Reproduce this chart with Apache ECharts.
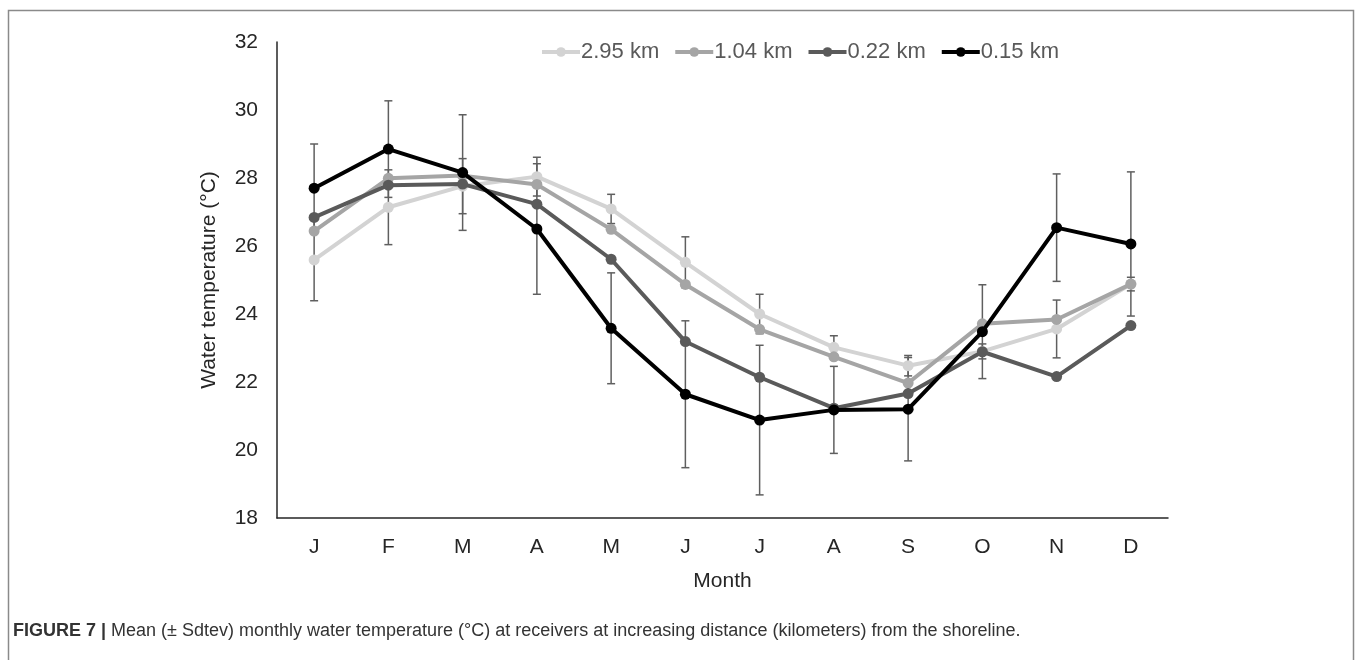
<!DOCTYPE html>
<html>
<head>
<meta charset="utf-8">
<script src="https://cdn.jsdelivr.net/npm/echarts@6/dist/echarts.min.js"></script>
<style>
html,body{margin:0;padding:0;background:#fff;}
#chart{width:1357px;height:660px;}
</style>
</head>
<body>
<div id="chart"></div>
<script>
var months = ['J','F','M','A','M','J','J','A','S','O','N','D'];
var seriesNames = ['2.95 km','1.04 km','0.22 km','0.15 km'];
var km295 = [25.59, 27.14, 27.76, 28.04, 27.09, 25.52, 24.00, 23.02, 22.48, 22.90, 23.56, 24.88];
var km104 = [26.44, 27.99, 28.07, 27.81, 26.49, 24.87, 23.55, 22.74, 21.97, 23.71, 23.84, 24.88];
var km022 = [26.84, 27.79, 27.82, 27.23, 25.61, 23.19, 22.14, 21.23, 21.66, 22.89, 22.16, 23.66];
var km015 = [27.70, 28.85, 28.16, 26.50, 23.58, 21.64, 20.88, 21.18, 21.20, 23.48, 26.54, 26.06];
var sd295 = [1.20, 1.10, 0.81, 0.57, 0.43, 0.75, 0.58, 0.34, 0.30, 0.22, 0.85, 0.20];
var sd015 = [1.30, 1.42, 1.70, 1.92, 1.63, 2.16, 2.20, 1.28, 1.52, 1.38, 1.58, 2.12];
var yTicks = [18, 20, 22, 24, 26, 28, 30, 32];

var colors = ['#d3d3d3', '#a5a5a5', '#5a5a5a', '#000000'];
var FONT = '"Liberation Sans", Arial, sans-serif';

function errData(vals, sds) {
  return vals.map(function (v, i) { return [i, v - sds[i], v + sds[i]]; });
}
var errAll = errData(km295, sd295).concat(errData(km015, sd015));

function renderErr(params, api) {
  var lo = api.coord([api.value(0), api.value(1)]);
  var hi = api.coord([api.value(0), api.value(2)]);
  var hw = 4;
  var st = { stroke: '#5f5f5f', lineWidth: 1.5 };
  return {
    type: 'group',
    children: [
      { type: 'line', shape: { x1: lo[0], y1: lo[1], x2: hi[0], y2: hi[1] }, style: st },
      { type: 'line', shape: { x1: lo[0] - hw, y1: lo[1], x2: lo[0] + hw, y2: lo[1] }, style: st },
      { type: 'line', shape: { x1: hi[0] - hw, y1: hi[1], x2: hi[0] + hw, y2: hi[1] }, style: st }
    ]
  };
}

function lineSeries(name, data, color, z) {
  return {
    name: name, type: 'line', data: data, z: z,
    symbol: 'circle', symbolSize: 11,
    lineStyle: { color: color, width: 4 },
    itemStyle: { color: color },
    emphasis: { disabled: true },
    animation: false
  };
}

var chart = echarts.init(document.getElementById('chart'), null, { renderer: 'canvas' });
chart.setOption({
  animation: false,
  backgroundColor: '#ffffff',
  textStyle: { fontFamily: FONT },
  grid: { left: 277, right: 189, top: 42, bottom: 142, containLabel: false },
  legend: {
    data: seriesNames,
    left: 535, top: 36,
    itemWidth: 38, itemHeight: 12, itemGap: 14,
    lineStyle: { width: 4 },
    textStyle: { fontSize: 22, color: '#595959', fontFamily: FONT, padding: [0, 0, 0, -4] }
  },
  xAxis: {
    type: 'category', data: months, boundaryGap: true,
    name: 'Month', nameLocation: 'middle', nameGap: 53,
    nameTextStyle: { fontSize: 21, color: '#262626', fontFamily: FONT },
    axisLine: { lineStyle: { color: '#262626', width: 1.5 } },
    axisTick: { show: false },
    axisLabel: { fontSize: 21, color: '#262626', margin: 19, fontFamily: FONT },
    splitLine: { show: false }
  },
  yAxis: {
    type: 'value', min: yTicks[0], max: yTicks[yTicks.length - 1], interval: 2,
    name: 'Water temperature (°C)', nameLocation: 'middle', nameGap: 57, nameRotate: 90,
    nameTextStyle: { fontSize: 21, color: '#262626', fontFamily: FONT },
    axisLine: { show: true, lineStyle: { color: '#262626', width: 1.5 } },
    axisTick: { show: false },
    axisLabel: { fontSize: 21, color: '#262626', margin: 19, fontFamily: FONT },
    splitLine: { show: false }
  },
  series: [
    {
      name: 'err', type: 'custom', renderItem: renderErr, data: errAll, z: 1,
      encode: { x: 0, y: [1, 2] }, silent: true, animation: false
    },
    lineSeries(seriesNames[0], km295, colors[0], 2),
    lineSeries(seriesNames[1], km104, colors[1], 3),
    lineSeries(seriesNames[2], km022, colors[2], 4),
    lineSeries(seriesNames[3], km015, colors[3], 5)
  ],
  graphic: [
    {
      type: 'rect', silent: true, z: 0,
      shape: { x: 8.5, y: 10.5, width: 1345, height: 660 },
      style: { fill: 'none', stroke: '#8a8a8a', lineWidth: 1.5 }
    },
    {
      type: 'text', left: 13, top: 622, z: 10,
      style: {
        text: '{b|FIGURE 7 |} Mean (± Sdtev) monthly water temperature (°C) at receivers at increasing distance (kilometers) from the shoreline.',
        font: '18px ' + FONT,
        fill: '#333333',
        rich: { b: { fontWeight: 'bold', fontSize: 18, fontFamily: FONT, fill: '#333333' } }
      }
    }
  ]
});
</script>
</body>
</html>
